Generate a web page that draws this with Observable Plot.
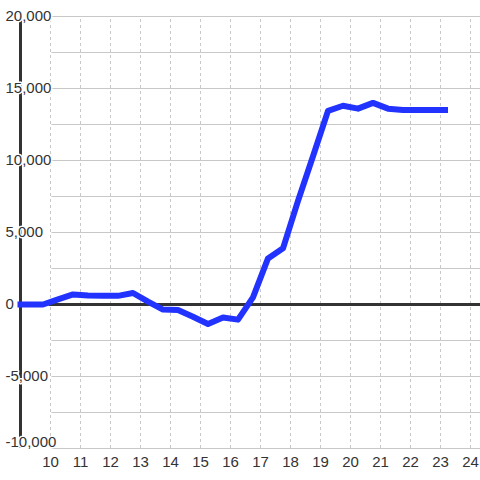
<!DOCTYPE html>
<html>
<head>
<meta charset="utf-8">
<script src="https://cdn.jsdelivr.net/npm/d3@7"></script>
<script src="https://cdn.jsdelivr.net/npm/@observablehq/plot@0.6"></script>
<style>
  html, body { margin: 0; padding: 0; background: #ffffff; }
  #chart svg { display: block; }
</style>
</head>
<body>
<div id="chart"></div>
<script>
// Data
const hours = [8.9, 9.25, 9.75, 10.25, 10.75, 11.25, 11.75, 12.25, 12.75, 13.25, 13.75, 14.25, 14.75, 15.25, 15.75, 16.25, 16.75, 17.25, 17.75, 18.25, 18.75, 19.25, 19.75, 20.25, 20.75, 21.25, 21.75, 22.25, 22.75, 23.25];
const values = [0, 0, 0, 350, 700, 620, 600, 600, 800, 200, -350, -380, -850, -1350, -900, -1050, 500, 3200, 3900, 7200, 10300, 13450, 13800, 13600, 14000, 13600, 13500, 13500, 13500, 13500];
const xTicks = [10, 11, 12, 13, 14, 15, 16, 17, 18, 19, 20, 21, 22, 23, 24];
const yTicks = [-10000, -5000, 0, 5000, 10000, 15000, 20000];
const yTickLabels = ["-10,000", "-5,000", "0", "5,000", "10,000", "15,000", "20,000"];
const yGrid = [-10000, -7500, -5000, -2500, 2500, 5000, 7500, 10000, 12500, 15000, 17500, 20000];

const series = hours.map((h, i) => ({hour: h, value: values[i]}));
const yLabelData = yTicks.map((v, i) => ({value: v, label: yTickLabels[i]}));

const X0 = 9, X1 = 9 + 460 / 30;
const Y0 = -10000, Y1 = 20000;

const labelStyle = {textAnchor: "start", dx: -15, lineAnchor: "middle", fontSize: 15, fill: "#333333", stroke: "#ffffff", strokeWidth: 3};

const chart = Plot.plot({
  width: 480,
  height: 480,
  marginTop: 16,
  marginBottom: 32,
  marginLeft: 20,
  marginRight: 0,
  style: {background: "#ffffff", fontFamily: "'Liberation Sans', Arial, sans-serif"},
  x: {domain: [X0, X1], axis: null},
  y: {domain: [Y0, Y1], axis: null},
  marks: [
    Plot.ruleY(yGrid, {x1: 10.05, x2: X1, stroke: "#c8c8c8", strokeWidth: 1}),
    Plot.ruleX(xTicks, {y1: Y0, y2: Y1, stroke: "#c8c8c8", strokeWidth: 1, strokeDasharray: "3,3"}),
    Plot.ruleY([0], {x1: 9.95, x2: X1, stroke: "#333333", strokeWidth: 3}),
    Plot.ruleX([X0], {y1: Y0, y2: Y1, stroke: "#333333", strokeWidth: 3}),
    Plot.line(series, {x: "hour", y: "value", stroke: "#2233ff", strokeWidth: 6, strokeLinejoin: "round", strokeLinecap: "butt"}),
    Plot.text(yLabelData.filter(d => d.value !== Y0), {x: () => X0, y: "value", text: "label", ...labelStyle}),
    Plot.text(yLabelData.filter(d => d.value === Y0), {x: () => X0, y: "value", text: "label", ...labelStyle, dy: -6}),
    Plot.text(xTicks, {x: d => d, y: () => Y0, text: d => String(d), dy: 14, lineAnchor: "middle",
      fontSize: 15, fill: "#333333"})
  ]
});
document.getElementById("chart").appendChild(chart);
</script>
</body>
</html>
